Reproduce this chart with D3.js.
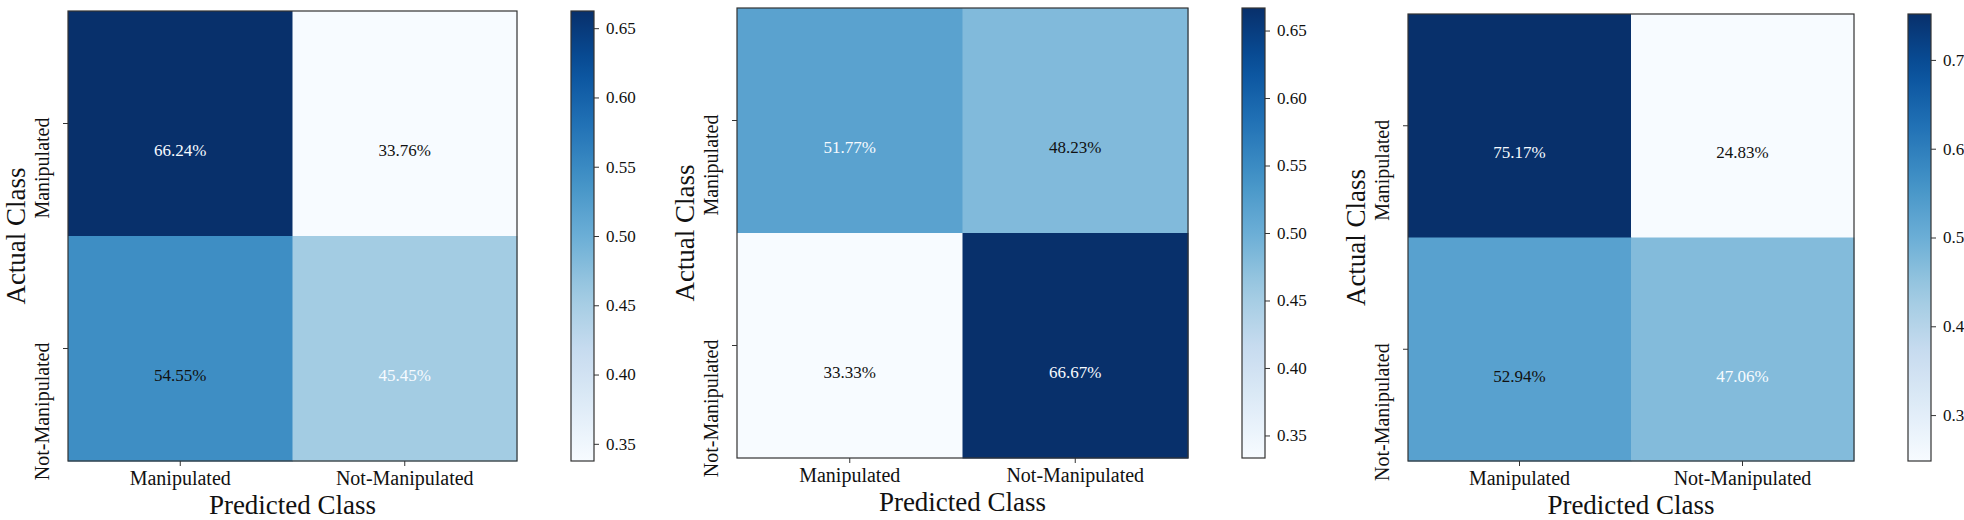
<!DOCTYPE html>
<html>
<head>
<meta charset="utf-8">
<script src="https://cdn.jsdelivr.net/npm/d3@7"></script>
<style>
  body { margin: 0; background: #fff; }
  text { font-family: "Liberation Serif", "Times New Roman", serif; fill: #111; }
</style>
</head>
<body>
<div id="chart-area"></div>
<script>
// class names, same on both axes
var classes = ["Manipulated", "Not-Manipulated"];

// row-normalised confusion matrices (rows = actual, cols = predicted)
var cm1 = [[0.6624, 0.3376], [0.5455, 0.4545]];
var cm2 = [[0.5177, 0.4823], [0.3333, 0.6667]];
var cm3 = [[0.7517, 0.2483], [0.5294, 0.4706]];

// colorbar ticks for each panel
var ticks1 = [0.35, 0.40, 0.45, 0.50, 0.55, 0.60, 0.65];
var ticks2 = [0.35, 0.40, 0.45, 0.50, 0.55, 0.60, 0.65];
var ticks3 = [0.3, 0.4, 0.5, 0.6, 0.7];

// where each panel sits on the page
var layout = [
  { m: cm1, ticks: ticks1, fmt: ".2f", x: 68,   y: 11, w: 449, h: 450, cbx: 571 },
  { m: cm2, ticks: ticks2, fmt: ".2f", x: 737,  y: 8,  w: 451, h: 450, cbx: 1242 },
  { m: cm3, ticks: ticks3, fmt: ".1f", x: 1408, y: 14, w: 446, h: 447, cbx: 1908 }
];

// matplotlib "Blues" = linear ramp through the 9 ColorBrewer stops
var bluesStops = ["#f7fbff", "#deebf7", "#c6dbef", "#9ecae1", "#6baed6",
                  "#4292c6", "#2171b5", "#08519c", "#08306b"];
var blues = d3.scaleLinear()
    .domain(d3.range(9).map(function (i) { return i / 8; }))
    .range(bluesStops)
    .interpolate(d3.interpolateRgb)
    .clamp(true);

var svg = d3.select("#chart-area").append("svg")
    .attr("width", 1964)
    .attr("height", 520);

var defs = svg.append("defs");

layout.forEach(function (p, k) {
  var flat = [];
  p.m.forEach(function (row, i) {
    row.forEach(function (v, j) { flat.push({ i: i, j: j, v: v }); });
  });
  var vmin = d3.min(flat, function (d) { return d.v; });
  var vmax = d3.max(flat, function (d) { return d.v; });
  var norm = d3.scaleLinear().domain([vmin, vmax]).range([0, 1]);

  var x = d3.scaleBand().domain(classes).range([0, p.w]);
  var y = d3.scaleBand().domain(classes).range([0, p.h]);

  var g = svg.append("g")
      .attr("transform", `translate(${p.x}, ${p.y})`);

  // cells
  g.selectAll("rect.cell")
      .data(flat)
      .enter()
      .append("rect")
      .attr("class", "cell")
      .attr("x", function (d) { return x(classes[d.j]); })
      .attr("y", function (d) { return y(classes[d.i]); })
      .attr("width", x.bandwidth() + 0.5)
      .attr("height", y.bandwidth() + 0.5)
      .attr("fill", function (d) { return blues(norm(d.v)); });

  // cell labels, diagonal in light text
  g.selectAll("text.val")
      .data(flat)
      .enter()
      .append("text")
      .attr("class", "val")
      .attr("x", function (d) { return x(classes[d.j]) + x.bandwidth() / 2; })
      .attr("y", function (d) { return y(classes[d.i]) + y.bandwidth() / 2 + y.bandwidth() * 0.145; })
      .attr("text-anchor", "middle")
      .attr("font-size", "17px")
      .style("fill", function (d) { return d.i === d.j ? "#f7fbff" : "#111"; })
      .text(function (d) { return (d.v * 100).toFixed(2) + "%"; });

  // frame
  g.append("rect")
      .attr("width", p.w)
      .attr("height", p.h)
      .attr("fill", "none")
      .attr("stroke", "#333")
      .attr("stroke-width", 1.2);

  // x axis
  var xAxis = g.append("g")
      .attr("transform", `translate(0, ${p.h})`)
      .call(d3.axisBottom(x).tickSize(5).tickPadding(8));
  xAxis.select(".domain").remove();
  xAxis.selectAll("line").attr("stroke", "#333");
  xAxis.selectAll("text")
      .attr("font-size", "20px")
      .attr("y", 24)
      .attr("dy", 0)
      .style("fill", "#111")
      .style("font-family", "Liberation Serif");

  // y axis, labels rotated, reading upward, top end just above the tick
  var yAxis = g.append("g").call(d3.axisLeft(y).tickSize(5));
  yAxis.select(".domain").remove();
  yAxis.selectAll("line").attr("stroke", "#333");
  yAxis.selectAll("text")
      .attr("x", null)
      .attr("dy", null)
      .attr("transform", "translate(-19, -6) rotate(-90)")
      .attr("text-anchor", "end")
      .attr("font-size", "20px")
      .style("fill", "#111")
      .style("font-family", "Liberation Serif");

  // axis titles
  g.append("text")
      .attr("x", p.w / 2)
      .attr("y", p.h + 53)
      .attr("text-anchor", "middle")
      .attr("font-size", "27px")
      .text("Predicted Class");

  g.append("text")
      .attr("transform", `translate(-43, ${p.h / 2}) rotate(-90)`)
      .attr("text-anchor", "middle")
      .attr("font-size", "27px")
      .text("Actual Class");

  // colorbar
  var gradId = "grad" + k;
  var grad = defs.append("linearGradient")
      .attr("id", gradId)
      .attr("x1", 0).attr("y1", 1)
      .attr("x2", 0).attr("y2", 0);
  d3.range(0, 1.0001, 0.05).forEach(function (t) {
    grad.append("stop")
        .attr("offset", t)
        .attr("stop-color", blues(t));
  });

  var cbW = 23;
  var cb = svg.append("g")
      .attr("transform", `translate(${p.cbx}, ${p.y})`);
  cb.append("rect")
      .attr("width", cbW)
      .attr("height", p.h)
      .attr("fill", `url(#${gradId})`)
      .attr("stroke", "#333")
      .attr("stroke-width", 1.2);

  var cbScale = d3.scaleLinear().domain([vmin, vmax]).range([p.h, 0]);
  var cbAxis = cb.append("g")
      .attr("transform", `translate(${cbW}, 0)`)
      .call(d3.axisRight(cbScale)
          .tickValues(p.ticks)
          .tickFormat(d3.format(p.fmt))
          .tickSize(5)
          .tickPadding(7));
  cbAxis.select(".domain").remove();
  cbAxis.selectAll("line").attr("stroke", "#333");
  cbAxis.selectAll("text")
      .attr("font-size", "17px")
      .style("fill", "#111")
      .style("font-family", "Liberation Serif");
});
</script>
</body>
</html>
